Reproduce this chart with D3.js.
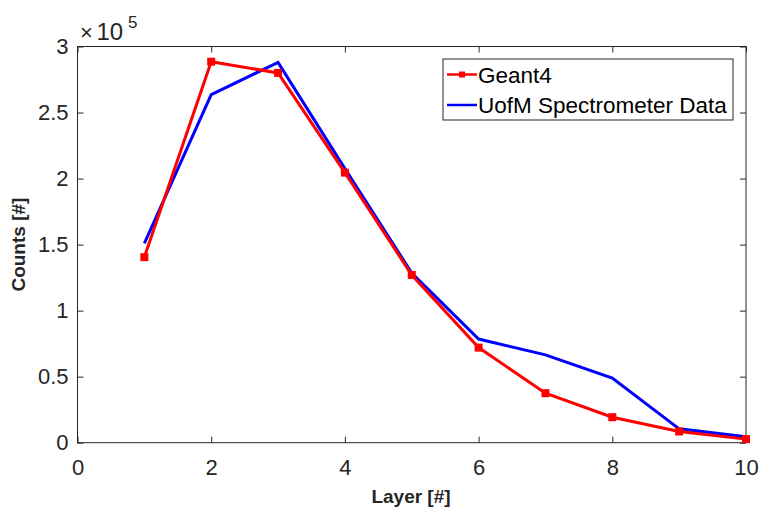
<!DOCTYPE html>
<html><head><meta charset="utf-8">
<script src="https://d3js.org/d3.v7.min.js"></script>
<style>body{margin:0;background:#fff;} text{font-family:"Liberation Sans",Arial,sans-serif;}</style>
</head><body><svg id="c" width="764" height="512"></svg>
<script>
const layers = [1,2,3,4,5,6,7,8,9,10];
const geant4 = [1.405,2.885,2.80,2.045,1.27,0.72,0.375,0.193,0.085,0.027];
const uofm = [1.51,2.635,2.88,2.075,1.285,0.785,0.665,0.49,0.105,0.045];
const xTicks = [0,2,4,6,8,10];
const yTicks = [0,0.5,1,1.5,2,2.5,3];
const seriesNames = ["Geant4","UofM Spectrometer Data"];

const svg = d3.select("#c");
const L=77.5,R=746,T=46.5,B=442.7;
const x = d3.scaleLinear().domain([0,10]).range([L,R]);
const y = d3.scaleLinear().domain([0,3]).range([B,T]);
const axCol="#262626";

svg.append("rect").attr("x",L).attr("y",T).attr("width",R-L).attr("height",B-T)
  .attr("fill","none").attr("stroke",axCol).attr("stroke-width",1);
const fmt = d=>String(d);
const gx = svg.append("g").attr("transform",`translate(0,${B})`)
  .call(d3.axisBottom(x).tickValues(xTicks).tickFormat(fmt).tickSizeInner(-6).tickSizeOuter(0).tickPadding(17));
const gxt = svg.append("g").attr("transform",`translate(0,${T})`)
  .call(d3.axisTop(x).tickValues(xTicks).tickFormat("").tickSizeInner(-6).tickSizeOuter(0));
const gy = svg.append("g").attr("transform",`translate(${L},0)`)
  .call(d3.axisLeft(y).tickValues(yTicks).tickFormat(fmt).tickSizeInner(-6).tickSizeOuter(0).tickPadding(9));
const gyr = svg.append("g").attr("transform",`translate(${R},0)`)
  .call(d3.axisRight(y).tickValues(yTicks).tickFormat("").tickSizeInner(-6).tickSizeOuter(0));
[gx,gxt,gy,gyr].forEach(g=>{
  g.select(".domain").remove();
  g.selectAll("line").attr("stroke",axCol);
  g.selectAll("text").attr("fill",axCol).style("font-size","22px").style("font-family","'Liberation Sans',Arial,sans-serif");
});
gx.selectAll("text").attr("dy","0.71em");

// exponent
svg.append("text").attr("x",80).attr("y",40).attr("fill",axCol).style("font-size","22px").text("\u00d7");
svg.append("text").attr("x",96.5).attr("y",40).attr("fill",axCol).style("font-size","24px").text("10");
svg.append("text").attr("x",128).attr("y",28).attr("fill",axCol).style("font-size","17px").text("5");

svg.append("text").attr("x",411).attr("y",503).attr("text-anchor","middle")
  .attr("fill",axCol).style("font-size","19px").style("font-weight","bold").text("Layer [#]");
svg.append("text").attr("transform",`translate(25,${(T+B)/2}) rotate(-90)`).attr("text-anchor","middle")
  .attr("fill",axCol).style("font-size","19px").style("font-weight","bold").text("Counts [#]");

const line = d3.line().x((d,i)=>x(layers[i])).y(d=>y(d));
svg.append("path").datum(uofm).attr("d",line).attr("fill","none").attr("stroke","#0000ff").attr("stroke-width",3);
svg.append("path").datum(geant4).attr("d",line).attr("fill","none").attr("stroke","#ff0000").attr("stroke-width",3);
svg.selectAll("rect.m").data(geant4).enter().append("rect").attr("class","m")
  .attr("x",(d,i)=>x(layers[i])-4).attr("y",d=>y(d)-4).attr("width",8).attr("height",8).attr("fill","#ff0000");

const lg = svg.append("g");
lg.append("rect").attr("x",443).attr("y",59).attr("width",290).attr("height",61)
  .attr("fill","#fff").attr("stroke",axCol).attr("stroke-width",1);
const cols=["#ff0000","#0000ff"];
seriesNames.forEach((n,i)=>{
  const yy = 74.5+ i*30.5;
  lg.append("line").attr("x1",447).attr("x2",477).attr("y1",yy).attr("y2",yy).attr("stroke",cols[i]).attr("stroke-width",2.5);
  if(i===0) lg.append("rect").attr("x",459).attr("y",yy-3).attr("width",6).attr("height",6).attr("fill",cols[i]);
  lg.append("text").attr("x",478).attr("y",yy).attr("dy","0.36em").attr("fill","#000").style("font-size","22.5px").text(n);
});
</script></body></html>
